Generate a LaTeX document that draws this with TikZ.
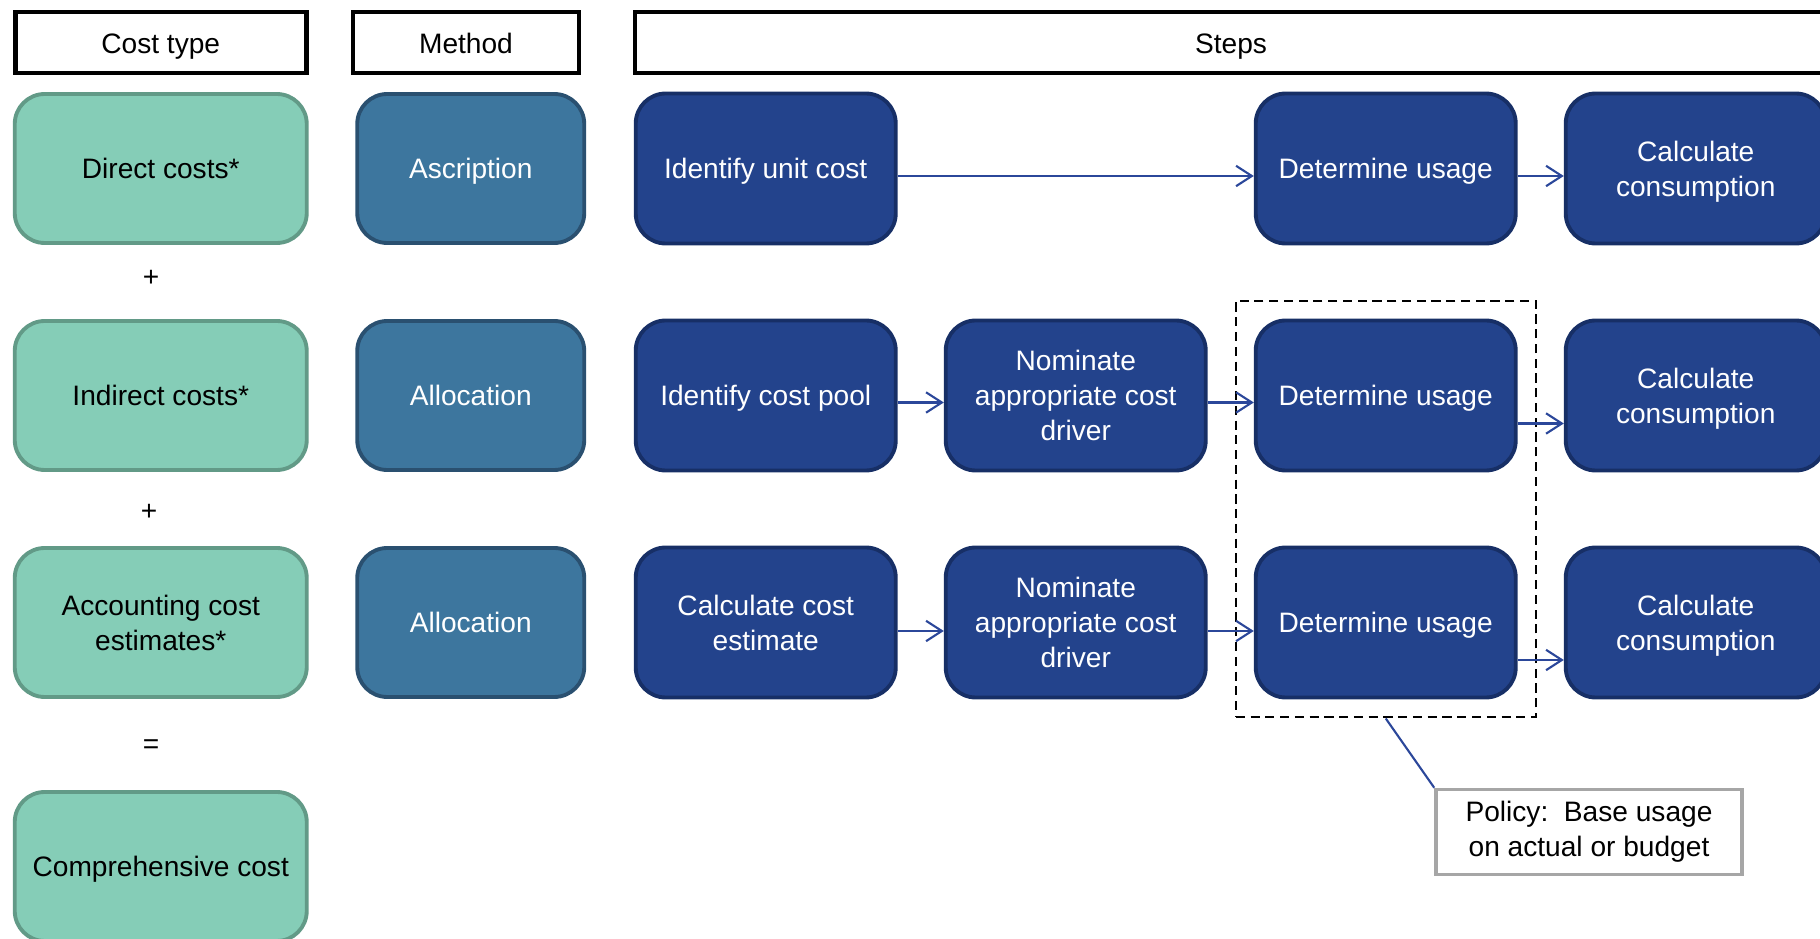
\documentclass[tikz,border=0pt]{standalone}
\usepackage{fontspec}
\setmainfont{Liberation Sans}
\usetikzlibrary{positioning,fit,arrows.meta}

\definecolor{costfill}{HTML}{85CDB7}
\definecolor{costdraw}{HTML}{629A87}
\definecolor{methodfill}{HTML}{3D769E}
\definecolor{methoddraw}{HTML}{2A5070}
\definecolor{stepfill}{HTML}{23438C}
\definecolor{stepdraw}{HTML}{172F66}
\definecolor{linkblue}{HTML}{2B479A}
\definecolor{notegray}{HTML}{A6A6A6}

\begin{document}
\begin{tikzpicture}[node distance=2.27cm, font=\fontsize{8pt}{9.9pt}\selectfont]
% Define box styles
\tikzstyle{header} = [rectangle, draw=black, line width=1.3pt, fill=white, text centered, text height=7pt, text depth=0.5pt, minimum height=0.61cm]
\tikzstyle{costbox} = [rectangle, rounded corners=0.3cm, draw=costdraw, line width=1.1pt, fill=costfill, align=center, text depth=0pt, minimum height=1.49cm, minimum width=2.92cm]
\tikzstyle{methodbox} = [rectangle, rounded corners=0.3cm, draw=methoddraw, line width=1.1pt, fill=methodfill, text=white, align=center, text depth=0pt, minimum height=1.49cm, minimum width=2.27cm]
\tikzstyle{stepbox} = [rectangle, rounded corners=0.3cm, draw=stepdraw, line width=1.1pt, fill=stepfill, text=white, align=center, text depth=0pt, minimum height=1.5cm, minimum width=2.6cm]
\tikzstyle{arrow} = [-{Straight Barb[length=4.5pt, width=5.8pt]}, line width=0.6pt, draw=linkblue]

\useasboundingbox (0,0) rectangle (18.2,-9.39);
\clip (0,0) rectangle (18.2,-9.39);

% Define header nodes
\node[header, minimum width=2.91cm] (costhead) at (1.6075,-0.424) {Cost type};
\node[header, minimum width=2.26cm] (methodhead) at (4.66,-0.424) {Method};
\node[header, minimum width=11.92cm] (stepshead) at (12.31,-0.424) {Steps};

% Define cost type nodes
\node[costbox] (direct) at (1.6075,-1.685) {Direct costs*};
\node[costbox, below of=direct] (indirect) {Indirect costs*};
\node[costbox, below of=indirect] (accounting) {Accounting cost\\estimates*};
\node[costbox, below of=accounting, yshift=-0.17cm] (comprehensive) {Comprehensive cost};

% Operators between cost types
\node (plusa) at (1.51,-2.786) {+};
\node (plusb) at (1.49,-5.119) {+};
\node (equals) at (1.51,-7.463) {=};

% Define method nodes
\node[methodbox, right of=direct, xshift=0.83cm] (ascription) {Ascription};
\node[methodbox, right of=indirect, xshift=0.83cm] (allocationa) {Allocation};
\node[methodbox, right of=accounting, xshift=0.83cm] (allocationb) {Allocation};

% Define step nodes (first row)
\node[stepbox, right of=ascription, xshift=0.68cm] (unitcost) {Identify unit cost};
\node[stepbox, right of=unitcost, xshift=3.93cm] (usagea) {Determine usage};
\node[stepbox, right of=usagea, xshift=0.83cm] (consumea) {Calculate\\consumption};

% Define step nodes (second row)
\node[stepbox, right of=allocationa, xshift=0.68cm] (costpool) {Identify cost pool};
\node[stepbox, right of=costpool, xshift=0.83cm] (drivera) {Nominate\\appropriate cost\\driver};
\node[stepbox, right of=drivera, xshift=0.83cm] (usageb) {Determine usage};
\node[stepbox, right of=usageb, xshift=0.83cm] (consumeb) {Calculate\\consumption};

% Define step nodes (third row)
\node[stepbox, right of=allocationb, xshift=0.68cm] (estimate) {Calculate cost\\estimate};
\node[stepbox, right of=estimate, xshift=0.83cm] (driverb) {Nominate\\appropriate cost\\driver};
\node[stepbox, right of=driverb, xshift=0.83cm] (usagec) {Determine usage};
\node[stepbox, right of=usagec, xshift=0.83cm] (consumec) {Calculate\\consumption};

% Policy note
\node[draw, dash pattern=on 2.6pt off 1.6pt, line width=0.6pt, inner sep=0.18cm, fit=(usageb)(usagec)] (usagegroup) {};
\node[rectangle, draw=notegray, line width=1pt, fill=white, align=center, minimum width=3.06cm, minimum height=0.85cm] (policy) at (15.89,-8.32) {Policy:\ \ Base usage\\on actual or budget};

% Relationships (arrows)
\draw[arrow] ([yshift=-0.075cm]unitcost.east) -- ([yshift=-0.075cm]usagea.west);
\draw[arrow] ([yshift=-0.075cm]usagea.east) -- ([yshift=-0.075cm]consumea.west);
\draw[arrow] ([yshift=-0.07cm]costpool.east) -- ([yshift=-0.07cm]drivera.west);
\draw[arrow] ([yshift=-0.07cm]drivera.east) -- ([yshift=-0.07cm]usageb.west);
\draw[arrow] ([yshift=-0.28cm]usageb.east) -- ([yshift=-0.28cm]consumeb.west);
\draw[arrow] ([yshift=-0.085cm]estimate.east) -- ([yshift=-0.085cm]driverb.west);
\draw[arrow] ([yshift=-0.085cm]driverb.east) -- ([yshift=-0.085cm]usagec.west);
\draw[arrow] ([yshift=-0.375cm]usagec.east) -- ([yshift=-0.375cm]consumec.west);
\draw[line width=0.6pt, draw=linkblue] (usagegroup.south) -- (policy.north west);

\end{tikzpicture}
\end{document}
